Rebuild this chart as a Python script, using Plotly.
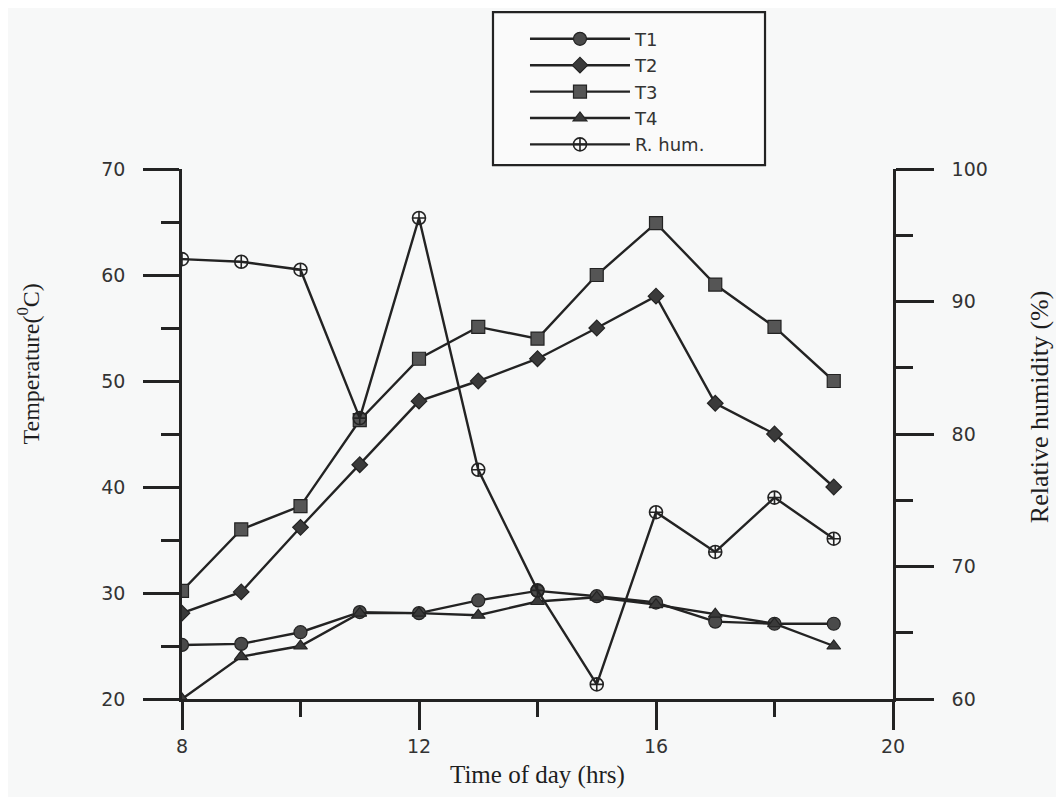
import plotly.graph_objects as go

hours = [8, 9, 10, 11, 12, 13, 14, 15, 16, 17, 18, 19]
t1 = [25.1, 25.2, 26.3, 28.2, 28.1, 29.3, 30.2, 29.7, 29.1, 27.3, 27.1, 27.1]
t2 = [28.1, 30.1, 36.2, 42.1, 48.1, 50.0, 52.1, 55.0, 58.0, 47.9, 45.0, 40.0]
t3 = [30.2, 36.0, 38.2, 46.3, 52.1, 55.1, 54.0, 60.0, 64.9, 59.1, 55.1, 50.0]
t4 = [20.0, 24.0, 25.0, 28.1, 28.1, 27.9, 29.2, 29.6, 28.9, 28.0, 27.1, 25.0]
rh = [93.2, 93.0, 92.4, 81.2, 96.3, 77.3, 68.2, 61.1, 74.1, 71.1, 75.2, 72.1]

series_names = ["T1", "T2", "T3", "T4", "R. hum."]
x_ticks = [8, 12, 16, 20]
temp_ticks = [20, 30, 40, 50, 60, 70]
rh_ticks = [60, 70, 80, 90, 100]

INK = "#232323"
BG = "#f7f8f8"
TICK_FONT = dict(family="DejaVu Sans", size=19, color="#333333")
SERIF = "Liberation Serif"

fig = go.Figure()

styles = [
    (t1, "circle", 13, "#4a4a4a", "y"),
    (t2, "diamond", 12, "#3a3a3a", "y"),
    (t3, "square", 13, "#555555", "y"),
    (t4, "triangle-up", 12, "#3a3a3a", "y"),
]
for name, (vals, sym, size, fill, ax) in zip(series_names[:4], styles):
    fig.add_trace(go.Scatter(
        x=hours, y=vals, name=name, mode="lines+markers", yaxis=ax,
        line=dict(color=INK, width=2.4),
        marker=dict(symbol=sym, size=size, color=fill, line=dict(color=INK, width=1.2)),
    ))

fig.add_trace(go.Scatter(
    x=hours, y=rh, name=series_names[4], mode="lines+markers", yaxis="y2",
    line=dict(color=INK, width=2.4),
    marker=dict(symbol="circle-cross-open", size=13, color=INK, line=dict(color=INK, width=1.6)),
))

fig.update_layout(
    width=1064, height=797,
    margin=dict(l=174, r=179, t=159, b=106),
    paper_bgcolor=BG, plot_bgcolor=BG,
    showlegend=True,
    legend=dict(
        x=0.4824, y=1.28, xanchor="left", yanchor="top",
        bgcolor="rgba(0,0,0,0)", borderwidth=0,
        font=dict(family="DejaVu Sans", size=18, color="#333333"),
        itemwidth=100, tracegroupgap=0,
    ),
    shapes=[
        dict(type="rect", xref="paper", yref="paper", x0=0.4374, x1=0.82, y0=1.0075, y1=1.296,
             line=dict(color=INK, width=2.2), fillcolor="rgba(255,255,255,0.35)", layer="below"),
    ],
    xaxis=dict(
        range=[8, 20], tickvals=x_ticks, ticktext=[str(v) for v in x_ticks],
        showline=True, linecolor=INK, linewidth=2.5, mirror=False,
        ticks="outside", ticklen=28, tickwidth=2.5, tickcolor=INK,
        minor=dict(dtick=2, tick0=8, ticks="outside", ticklen=15, tickwidth=2.5, tickcolor=INK),
        showgrid=False, zeroline=False, tickfont=TICK_FONT,
    ),
    yaxis=dict(
        range=[20, 70], tickvals=temp_ticks,
        showline=True, linecolor=INK, linewidth=2.5,
        ticks="outside", ticklen=36, tickwidth=2.5, tickcolor=INK,
        minor=dict(dtick=5, tick0=20, ticks="outside", ticklen=18, tickwidth=2.5, tickcolor=INK),
        showgrid=False, zeroline=False, tickfont=TICK_FONT, ticklabelstandoff=14,
    ),
    yaxis2=dict(
        range=[60, 100], tickvals=rh_ticks, overlaying="y", side="right",
        showline=True, linecolor=INK, linewidth=2.5,
        ticks="outside", ticklen=38, tickwidth=2.5, tickcolor=INK,
        minor=dict(dtick=5, tick0=60, ticks="outside", ticklen=17, tickwidth=2.5, tickcolor=INK),
        showgrid=False, zeroline=False, tickfont=TICK_FONT, ticklabelstandoff=14,
    ),
    annotations=[
        dict(text="Time of day (hrs)", x=0.5, y=-0.143, xref="paper", yref="paper",
             xanchor="center", yanchor="middle", showarrow=False,
             font=dict(family=SERIF, size=25, color="#1e1e1e")),
        dict(text="Temperature(<sup>0</sup>C)", x=-0.2166, y=0.633, xref="paper", yref="paper",
             xanchor="center", yanchor="middle", textangle=-90, showarrow=False,
             font=dict(family=SERIF, size=24, color="#1e1e1e")),
        dict(text="Relative humidity (%)", x=1.207, y=0.551, xref="paper", yref="paper",
             xanchor="center", yanchor="middle", textangle=-90, showarrow=False,
             font=dict(family=SERIF, size=26, color="#1e1e1e")),
    ],
)

fig.write_html("out.html")
